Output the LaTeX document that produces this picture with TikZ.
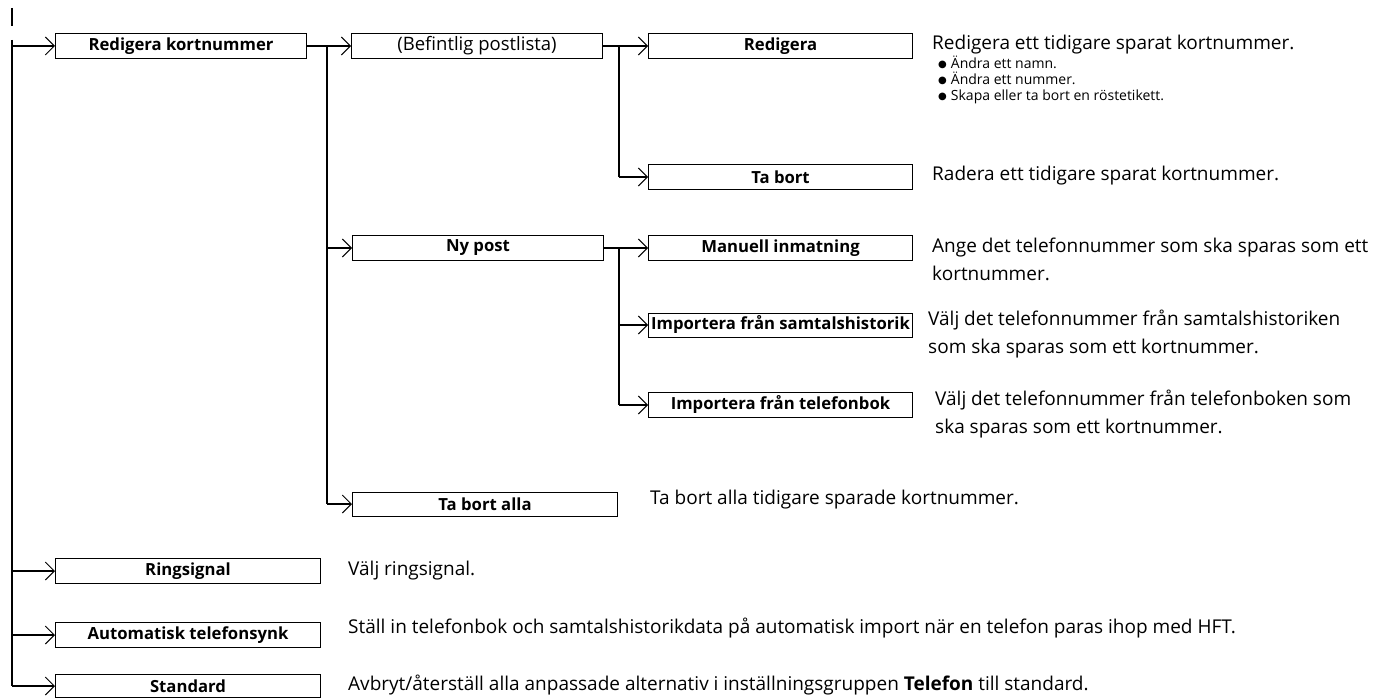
\documentclass[tikz,border=0pt]{standalone}
\usepackage{fontspec}
\setmainfont{Open Sans}
\newfontfamily\dotfont{DejaVu Sans}
\usetikzlibrary{arrows.meta}

\newcommand{\dotitem}{\raisebox{1.5pt}{\dotfont\fontsize{10}{10}\selectfont ●}\hspace{4pt}}

\begin{document}
\begin{tikzpicture}[x=1pt, y=-1pt,
    menubox/.style={draw, line width=1pt, minimum height=25pt, inner sep=0pt,
        anchor=west, font=\fontsize{16.7}{18}\selectfont\bfseries},
    desc/.style={anchor=west, align=left, inner sep=0pt,
        font=\fontsize{19}{28}\selectfont},
    conn/.style={line width=1.8pt},
    arr/.style={line width=1.8pt,
        -{Straight Barb[length=9pt, width=18pt, line width=1pt]}}
]
    \useasboundingbox (0,0) rectangle (1380,698);

    % first column
    \coordinate (trunkA) at (12,40);
    \node[menubox, minimum width=251pt] (rkbox) at (55,46) {Redigera kortnummer};
    \node[menubox, minimum width=265pt] (rsbox) at (55,571) {Ringsignal};
    \node[menubox, minimum width=265pt] (atsbox) at (55,635) {Automatisk telefonsynk};
    \node[menubox, minimum width=265pt, minimum height=23pt] (stdbox) at (55,686) {Standard};
    \draw[conn] (12,8) -- (12,26);
    \draw[conn] (trunkA) -- (trunkA |- stdbox.west);
    \foreach \b in {rkbox,rsbox,atsbox,stdbox} {
        \draw[arr] (trunkA |- \b.west) -- (\b.west);
    }

    % second column
    \coordinate (trunkB) at (327,46);
    \node[menubox, minimum width=251pt, font=\fontsize{18.5}{18}\selectfont] (bplbox) at (351,46) {(Befintlig postlista)};
    \node[menubox, minimum width=251pt] (npbox) at (352,248) {Ny post};
    \node[menubox, minimum width=265pt, minimum height=24pt] (tbabox) at (352,504) {Ta bort alla};
    \draw[conn] (rkbox.east) -- (trunkB);
    \draw[conn] (trunkB) -- (trunkB |- tbabox.west);
    \foreach \b in {bplbox,npbox,tbabox} {
        \draw[arr] (trunkB |- \b.west) -- (\b.west);
    }

    % third column
    \coordinate (trunkC) at (619,46);
    \coordinate (trunkD) at (619,248);
    \node[menubox, minimum width=264pt] (redbox) at (648,46) {Redigera};
    \node[menubox, minimum width=264pt] (tbbox) at (648,177) {Ta bort};
    \node[menubox, minimum width=264pt] (mibox) at (648,248) {Manuell inmatning};
    \node[menubox, minimum width=264pt, minimum height=24pt] (ifsbox) at (648,325) {Importera från samtalshistorik};
    \node[menubox, minimum width=264pt] (iftbox) at (648,405) {Importera från telefonbok};
    \draw[conn] (bplbox.east) -- (trunkC);
    \draw[conn] (trunkC) -- (trunkC |- tbbox.west);
    \draw[conn] (npbox.east) -- (trunkD);
    \draw[conn] (trunkD) -- (trunkD |- iftbox.west);
    \foreach \b in {redbox,tbbox} {
        \draw[arr] (trunkC |- \b.west) -- (\b.west);
    }
    \foreach \b in {mibox,ifsbox,iftbox} {
        \draw[arr] (trunkD |- \b.west) -- (\b.west);
    }

    % descriptions
    \node[desc] (reddesc) at (932,45) {Redigera ett tidigare sparat kortnummer.};
    \node[desc, font=\fontsize{14}{16}\selectfont] (redlist) at (938,80)
        {\dotitem Ändra ett namn.\\\dotitem Ändra ett nummer.\\\dotitem Skapa eller ta bort en röstetikett.};
    \node[desc] (tbdesc) at (932,176) {Radera ett tidigare sparat kortnummer.};
    \node[desc] (midesc) at (932,259) {Ange det telefonnummer som ska sparas som ett\\kortnummer.};
    \node[desc] (ifsdesc) at (928,334) {Välj det telefonnummer från samtalshistoriken\\som ska sparas som ett kortnummer.};
    \node[desc] (iftdesc) at (935,414) {Välj det telefonnummer från telefonboken som\\ska sparas som ett kortnummer.};
    \node[desc] (tbadesc) at (650,500) {Ta bort alla tidigare sparade kortnummer.};
    \node[desc] (rsdesc) at (348,571) {Välj ringsignal.};
    \node[desc] (atsdesc) at (348,628) {Ställ in telefonbok och samtalshistorikdata på automatisk import när en telefon paras ihop med HFT.};
    \node[desc] (stddesc) at (348,685) {Avbryt/återställ alla anpassade alternativ i inställningsgruppen \textbf{Telefon} till standard.};
\end{tikzpicture}
\end{document}
